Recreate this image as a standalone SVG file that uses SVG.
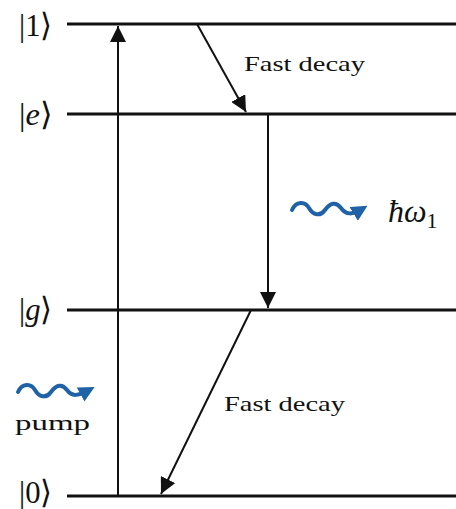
<svg xmlns="http://www.w3.org/2000/svg" width="456" height="509" viewBox="0 0 456 509">
<style>
.lvl{stroke:#111;stroke-width:3;fill:none}
.arr{stroke:#111;stroke-width:2;fill:none;marker-end:url(#ah)}
.wave{stroke:#1f62a8;stroke-width:4;fill:none;stroke-linecap:round;marker-end:url(#wh)}
.ket{font-family:"Liberation Serif",serif;font-size:32px;fill:#111}
.it{font-style:italic}
.lbl{font-family:"Liberation Serif",serif;font-size:22px;fill:#111}
</style>
<defs>
<marker id="ah" markerWidth="8" markerHeight="8" viewBox="0 0 10 10" refX="10" refY="5" orient="auto" markerUnits="strokeWidth">
<path d="M0,0 L10,5 L0,10 z" fill="#111"/>
</marker>
<marker id="wh" markerWidth="4" markerHeight="4" viewBox="0 0 10 10" refX="6" refY="5" orient="auto" markerUnits="strokeWidth">
<path d="M0,0 L10,5 L0,10 z" fill="#1f62a8"/>
</marker>
</defs>
<rect width="456" height="509" fill="#fff"/>
<g id="level-1"><line class="lvl" x1="67" y1="24" x2="456" y2="24"/><text class="ket" x="19" y="36" textLength="33" lengthAdjust="spacingAndGlyphs">|1⟩</text></g>
<g id="level-e"><line class="lvl" x1="67" y1="114" x2="456" y2="114"/><text class="ket" x="19" y="125" textLength="33" lengthAdjust="spacingAndGlyphs">|<tspan class="it">e</tspan>⟩</text></g>
<g id="level-g"><line class="lvl" x1="67" y1="310" x2="456" y2="310"/><text class="ket" x="19" y="320" textLength="33" lengthAdjust="spacingAndGlyphs">|<tspan class="it">g</tspan>⟩</text></g>
<g id="level-0"><line class="lvl" x1="67" y1="496" x2="456" y2="496"/><text class="ket" x="19" y="503" font-size="29" textLength="33" lengthAdjust="spacingAndGlyphs">|0⟩</text></g>
<g id="connectors">
<line class="arr" x1="118" y1="496" x2="118" y2="26"/>
<line class="arr" x1="197" y1="24" x2="246" y2="112"/>
<line class="arr" x1="268" y1="114" x2="268" y2="308"/>
<line class="arr" x1="251" y1="310" x2="161" y2="494"/>
</g>
<g id="label-fast-decay-1"><text class="lbl" x="244" y="71" textLength="121" lengthAdjust="spacingAndGlyphs">Fast decay</text></g>
<g id="label-fast-decay-2"><text class="lbl" x="224" y="411" textLength="121" lengthAdjust="spacingAndGlyphs">Fast decay</text></g>
<g id="photon"><path class="wave" d="M292,210 C296,201 305,201 309,208 S320,217 325,210 S336,201 341,208 S352,215 362,209"/><text class="ket" x="388" y="222" font-size="33"><tspan class="it">ħω</tspan><tspan font-size="22" dy="6">1</tspan></text></g>
<g id="pump"><path class="wave" d="M18,392 C22,383 31,383 35,390 S46,399 51,392 S62,383 67,390 S78,396 89,390"/><text class="lbl" x="15" y="430" font-size="25" textLength="75" lengthAdjust="spacingAndGlyphs">pump</text></g>
</svg>
